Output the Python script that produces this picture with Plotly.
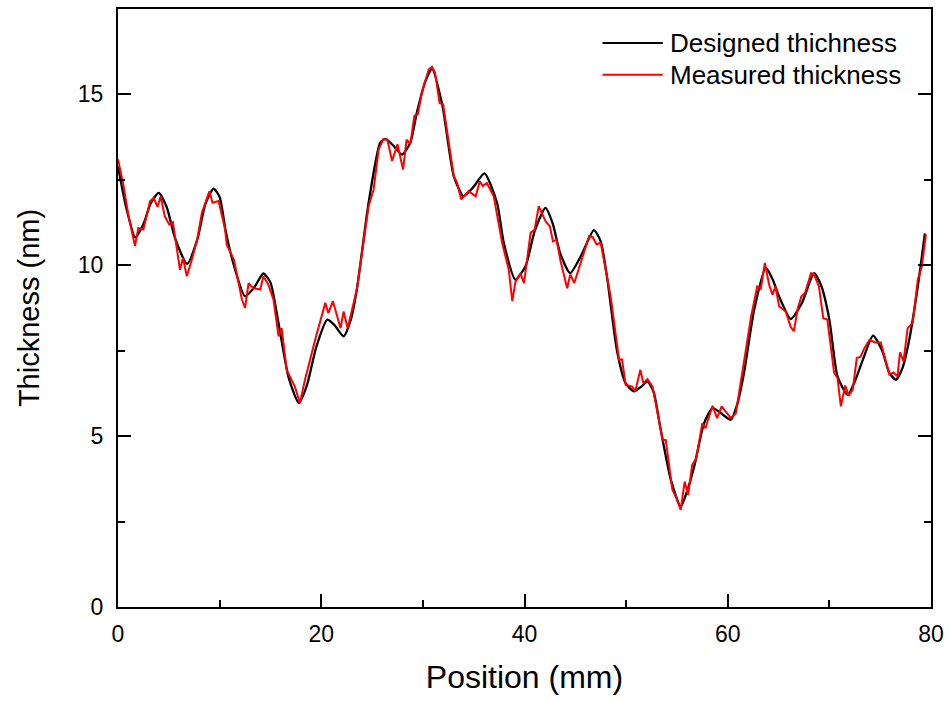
import plotly.graph_objects as go

# Designed thickness profile (position in mm, thickness in nm)
designed_x = [0, 0.8, 1.7, 2.5, 3.2, 4.0, 4.8, 5.6, 6.8, 7.8, 8.6, 9.4, 10.0, 10.6, 11.4,
              12.5, 13.4, 14.3, 15.0, 15.8, 16.8, 17.8, 18.6, 19.5, 20.6, 21.3, 22.2, 22.9,
              23.5, 24.66, 25.8, 26.3, 27.1, 27.95, 28.77, 29.4, 30.25, 30.9, 31.9, 33.04,
              34.0, 35.0, 36.06, 37.3, 37.96, 39.1, 40.1, 41.0, 42.07, 42.8, 43.5, 44.5,
              45.6, 46.83, 47.5, 48.15, 49.1, 49.95, 50.77, 51.5, 52.1, 52.7, 53.4, 54.4,
              55.37, 55.9, 56.7, 57.67, 58.5, 59.2, 60.3, 60.9, 61.6, 62.6, 63.74, 64.4,
              65.05, 66.2, 67.3, 68.5, 69.2, 70.0, 70.8, 71.8, 72.5, 73.3, 74.3, 75.2, 75.9,
              76.55, 77.2, 77.86, 78.7, 79.4]
designed_y = [12.9, 11.7, 10.82, 11.2, 11.8, 12.12, 11.7, 10.8, 10.04, 10.75, 11.8, 12.24,
              12.0, 11.0, 10.0, 9.09, 9.35, 9.76, 9.5, 8.3, 6.7, 5.97, 6.5, 7.6, 8.41, 8.25,
              7.92, 8.4, 9.29, 11.83, 13.59, 13.7, 13.5, 13.24, 13.59, 14.46, 15.39, 15.75,
              14.71, 12.61, 12.02, 12.3, 12.69, 11.83, 10.66, 9.58, 9.97, 11.0, 11.68, 11.2,
              10.36, 9.77, 10.3, 11.03, 10.7, 9.6, 7.5, 6.55, 6.31, 6.45, 6.6, 6.3, 5.19,
              3.72, 2.94, 3.3, 4.11, 5.38, 5.82, 5.7, 5.48, 5.9, 6.85, 8.7, 9.92, 9.6, 9.09,
              8.43, 8.9, 9.77, 9.4, 8.41, 6.75, 6.21, 6.6, 7.24, 7.94, 7.5, 6.85, 6.65, 7.0,
              7.82, 9.38, 10.93]

# Measured thickness profile
measured_x = [0.0, 0.5, 1.0, 1.67, 2.0, 2.5, 3.15, 3.5, 3.9, 4.2, 4.6, 5.05, 5.4, 6.1, 6.4,
              6.77, 7.3, 7.8, 8.25, 9.0, 9.3, 9.9, 10.54, 10.7, 11.4, 12.2, 12.5, 12.85,
              13.3, 14.0, 14.3, 14.8, 15.3, 15.8, 16.1, 16.6, 17.4, 17.9, 18.4, 19.4, 20.4,
              20.7, 21.15, 21.9, 22.2, 22.6, 23.5, 24.66, 25.15, 25.65, 26.1, 26.5, 26.97,
              27.5, 28.05, 28.4, 28.77, 29.16, 29.5, 29.9, 30.57, 30.9, 31.2, 31.65, 31.99,
              33.04, 33.37, 33.76, 34.5, 35.2, 35.6, 35.9, 36.3, 36.97, 37.8, 38.45, 38.8,
              39.1, 39.6, 39.95, 40.6, 41.0, 41.4, 42.07, 42.5, 42.8, 43.15, 43.55, 44.2,
              44.5, 44.9, 46.35, 46.7, 47.1, 47.5, 48.5, 49.3, 49.6, 49.95, 50.6, 50.9, 51.4,
              51.7, 52.1, 52.6, 53.6, 53.9, 54.55, 54.98, 55.37, 55.76, 56.1, 56.5, 56.9,
              57.5, 57.8, 58.5, 58.95, 59.4, 59.8, 60.3, 60.8, 61.3, 62.3, 62.9, 63.25,
              63.65, 64.07, 64.4, 64.7, 65.05, 65.7, 66.2, 66.5, 66.9, 67.25, 67.6, 68.2,
              68.5, 68.97, 69.4, 69.8, 70.47, 70.8, 71.13, 71.56, 71.9, 72.3, 72.7, 73.06,
              73.45, 73.95, 74.5, 75.06, 75.9, 76.3, 76.7, 76.95, 77.3, 77.7, 78.2, 78.7,
              79.1, 79.5]
measured_y = [13.1, 12.4, 11.5, 10.56, 11.09, 11.05, 11.87, 11.97, 11.71, 12.02, 11.44,
              11.19, 11.26, 9.87, 10.22, 9.68, 10.2, 10.77, 11.53, 12.17, 11.83, 11.88,
              11.05, 10.6, 10.17, 8.99, 8.75, 9.48, 9.33, 9.29, 9.68, 9.43, 8.99, 7.92,
              8.16, 6.94, 6.45, 5.97, 6.65, 7.82, 8.9, 8.6, 8.95, 8.16, 8.65, 8.16, 9.29,
              11.73, 12.22, 13.39, 13.68, 13.68, 13.05, 13.54, 12.8, 13.68, 13.55, 14.37,
              14.42, 15.05, 15.73, 15.81, 15.63, 14.74, 14.71, 12.61, 12.41, 11.93, 12.17,
              12.02, 12.46, 12.32, 12.41, 12.02, 10.66, 9.87, 8.95, 9.5, 9.77, 9.48, 10.95,
              11.05, 11.73, 11.29, 11.14, 10.7, 10.75, 10.12, 9.33, 9.73, 9.48, 10.85,
              10.83, 10.61, 10.66, 9.04, 7.24, 7.24, 6.5, 6.45, 6.31, 6.94, 6.55, 6.67,
              6.45, 4.89, 4.89, 3.43, 3.18, 2.84, 3.67, 3.28, 4.16, 4.35, 5.38, 5.23, 5.89,
              5.53, 5.87, 5.72, 5.53, 5.67, 6.65, 8.5, 9.38, 9.31, 10.07, 9.43, 9.14, 9.38,
              8.8, 8.65, 8.19, 8.07, 8.75, 9.09, 9.19, 9.77, 9.73, 9.38, 8.45, 8.41, 6.85,
              6.7, 5.87, 6.48, 6.18, 6.36, 7.29, 7.32, 7.58, 7.82, 7.74, 7.74, 6.8, 6.86,
              6.75, 7.45, 7.19, 8.16, 8.31, 9.58, 9.97, 10.9]

series_names = ["Designed thichness", "Measured thickness"]
series_colors = ["#000000", "#ff0000"]

FONT = "Liberation Sans, Arial, sans-serif"

fig = go.Figure()
fig.add_trace(go.Scatter(x=designed_x, y=designed_y, mode="lines",
                         line=dict(color=series_colors[0], width=2.3, shape="spline", smoothing=0.6),
                         name=series_names[0], showlegend=False))
fig.add_trace(go.Scatter(x=measured_x, y=measured_y, mode="lines",
                         line=dict(color=series_colors[1], width=2),
                         name=series_names[1], showlegend=False))

# Legend drawn in paper coordinates: short line sample followed by label
legend_rows = [0.943, 0.890]
for name, color, ry in zip(series_names, series_colors, legend_rows):
    fig.add_shape(type="line", xref="paper", yref="paper", x0=0.596, x1=0.670, y0=ry, y1=ry,
                  line=dict(color=color, width=2))
    fig.add_annotation(xref="paper", yref="paper", x=0.677, y=ry, text=name, showarrow=False,
                       xanchor="left", yanchor="middle", font=dict(family=FONT, size=26, color="#000"))

axis_common = dict(showline=True, linecolor="#000", linewidth=2, ticks="inside",
                   tickcolor="#000", tickwidth=2, ticklen=13, showgrid=False, zeroline=False,
                   tickfont=dict(family=FONT, size=23, color="#000"))

fig.update_xaxes(range=[0, 80], tick0=0, dtick=20, mirror=True, ticklabelstandoff=5,
                 minor=dict(ticks="inside", ticklen=7, dtick=10, tickcolor="#000", tickwidth=2),
                 title=dict(text="Position (mm)", font=dict(family=FONT, size=32, color="#000"),
                            standoff=20),
                 **axis_common)
fig.update_yaxes(range=[0, 17.5], tick0=0, dtick=5, mirror="ticks", ticklabelstandoff=8,
                 minor=dict(ticks="inside", ticklen=7, dtick=2.5, tickcolor="#000", tickwidth=2),
                 title=dict(text="Thickness (nm)", font=dict(family=FONT, size=29, color="#000"),
                            standoff=30),
                 **axis_common)

fig.update_layout(width=951, height=701, margin=dict(l=118, r=20, t=9, b=94, autoexpand=False),
                  plot_bgcolor="#fff", paper_bgcolor="#fff", showlegend=False)

fig.write_html("out.html")
